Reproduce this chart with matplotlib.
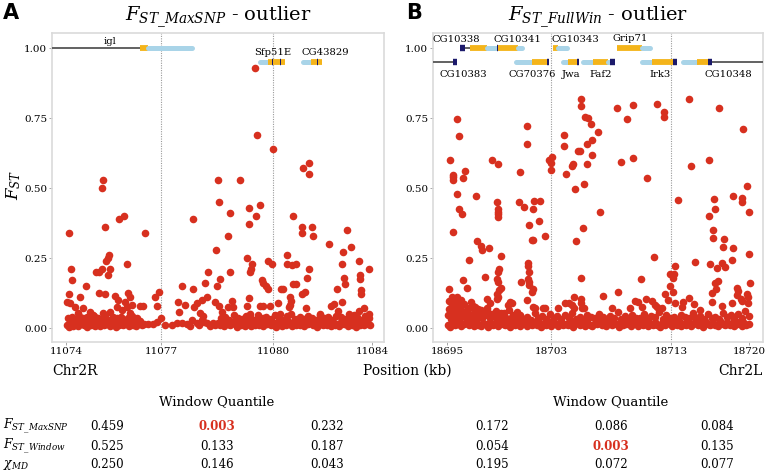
import matplotlib.pyplot as plt

plt.rcParams['font.family'] = 'DejaVu Serif'
plt.rcParams['mathtext.fontset'] = 'dejavuserif'

RED = '#d7301f'

# ---------------- panel A data (Chr2R, kb / F_ST) ----------------
a_pts = [
    (11074.10, .34), (11075.21, .53), (11075.18, .50), (11075.27, .36), (11075.73, .39),
    (11075.90, .40), (11076.58, .34), (11075.99, .23), (11075.41, .26), (11075.37, .25),
    (11075.31, .24), (11075.18, .21), (11074.98, .20), (11075.08, .20), (11075.44, .21),
    (11075.37, .19), (11074.16, .21), (11074.20, .17), (11074.65, .15), (11075.08, .125),
    (11075.27, .12), (11074.10, .12), (11074.03, .093), (11074.13, .09), (11074.46, .11),
    (11077.04, .13), (11076.91, .11), (11078.15, .39), (11078.97, .53), (11079.00, .45),
    (11079.36, .41), (11079.29, .33), (11078.90, .28), (11078.64, .20), (11079.36, .20),
    (11078.54, .16), (11079.03, .175), (11078.15, .14), (11077.79, .15), (11078.93, .15),
    (11078.61, .11), (11079.69, .53), (11080.24, .69), (11080.76, .64), (11081.75, .57),
    (11081.94, .59), (11081.94, .55), (11079.98, .43), (11080.34, .44), (11080.21, .40),
    (11079.98, .37), (11081.42, .40), (11081.71, .36), (11081.71, .34), (11082.04, .36),
    (11082.07, .33), (11083.18, .35), (11082.59, .30), (11083.31, .29), (11083.05, .27),
    (11079.92, .25), (11080.08, .23), (11080.05, .21), (11080.01, .20), (11080.60, .24),
    (11080.73, .23), (11081.22, .26), (11081.22, .23), (11081.39, .225), (11081.52, .23),
    (11081.94, .21), (11081.88, .18), (11083.02, .23), (11083.08, .18), (11083.58, .24),
    (11083.61, .19), (11083.61, .175), (11083.90, .21), (11080.41, .17), (11080.44, .16),
    (11080.54, .15), (11080.60, .14), (11081.03, .14), (11081.09, .14), (11081.42, .157),
    (11081.52, .157), (11082.86, .14), (11083.12, .157), (11081.71, .12), (11081.81, .13),
    (11083.64, .12), (11083.64, .136), (11079.98, .107), (11080.18, .93), (11083.02, .093),
    (11082.66, .08), (11082.76, .086), (11083.58, .06), (11083.74, .07), (11081.32, .11),
    (11081.35, .096), (11081.32, .082), (11081.29, .075), (11080.67, .08), (11080.93, .09),
    (11080.34, .08), (11080.44, .08), (11079.92, .08), (11079.42, .096), (11079.29, .075),
    (11079.46, .075), (11079.00, .08), (11079.10, .057), (11081.84, .07), (11075.60, .114),
    (11075.70, .10), (11076.03, .125), (11076.09, .11), (11075.93, .093), (11076.42, .08),
    (11076.52, .08), (11076.97, .08), (11077.66, .093), (11077.89, .082), (11078.28, .09),
    (11078.44, .10), (11078.87, .093), (11077.69, .057), (11078.18, .075), (11078.38, .054),
    (11078.48, .043), (11074.29, .075), (11074.56, .07), (11074.39, .054), (11074.78, .057),
    (11074.88, .046), (11074.56, .036), (11075.21, .054), (11075.44, .057), (11075.67, .075),
    (11075.83, .064), (11075.99, .075), (11076.16, .082), (11076.09, .054), (11076.32, .036),
    (11075.76, .036), (11075.21, .03), (11082.30, .05), (11082.90, .06), (11083.40, .045),
    (11083.90, .05), (11081.00, .05), (11080.00, .05),
]

a_low_x = [11074.02, 11074.09, 11074.14, 11074.21, 11074.27, 11074.33, 11074.40, 11074.45, 11074.52, 11074.58,
           11074.63, 11074.70, 11074.76, 11074.83, 11074.88, 11074.95, 11075.01, 11075.07, 11075.12, 11075.19,
           11075.25, 11075.31, 11075.38, 11075.43, 11075.50, 11075.56, 11075.62, 11075.69, 11075.74, 11075.80,
           11075.87, 11075.93, 11075.98, 11076.05, 11076.11, 11076.18, 11076.24, 11076.30, 11076.36, 11076.43,
           11076.49, 11076.56,
           11074.05, 11074.18, 11074.30, 11074.43, 11074.55, 11074.67, 11074.80, 11074.92, 11075.04, 11075.16,
           11075.28, 11075.41, 11075.53, 11075.65, 11075.78, 11075.90, 11076.02, 11076.14, 11076.27, 11076.39,
           11076.68, 11076.84, 11076.97, 11077.10, 11077.24, 11077.46, 11077.63, 11077.79, 11077.95, 11078.12,
           11078.28, 11078.44, 11078.61, 11078.80, 11078.97, 11078.05, 11078.35, 11078.70, 11078.52, 11078.88,
           11079.04, 11079.10, 11079.17, 11079.24, 11079.30, 11079.37, 11079.44, 11079.51, 11079.57, 11079.64,
           11079.71, 11079.77, 11079.84, 11079.91, 11079.97, 11080.04, 11080.11, 11080.18, 11080.24, 11080.31,
           11080.38, 11080.45, 11080.51, 11080.58, 11080.65, 11080.71, 11080.78, 11080.85, 11080.92, 11080.98,
           11081.05, 11081.12, 11081.18, 11081.25, 11081.32, 11081.39, 11081.45, 11081.52, 11081.59, 11081.66,
           11081.72, 11081.79, 11081.86, 11081.92, 11081.99, 11082.06, 11082.13, 11082.19, 11082.26, 11082.33,
           11082.40, 11082.46, 11082.53, 11082.60, 11082.66, 11082.73, 11082.80, 11082.87, 11082.93, 11083.00,
           11083.07, 11083.13, 11083.20, 11083.27, 11083.34, 11083.40, 11083.47, 11083.54, 11083.60, 11083.67,
           11083.74, 11083.81, 11083.87, 11083.93,
           11079.07, 11079.21, 11079.34, 11079.48, 11079.61, 11079.75, 11079.88, 11080.01, 11080.15, 11080.28,
           11080.42, 11080.55, 11080.69, 11080.82, 11080.95, 11081.09, 11081.22, 11081.36, 11081.49, 11081.63,
           11081.76, 11081.89, 11082.03, 11082.16, 11082.30, 11082.43, 11082.57, 11082.70, 11082.83, 11082.97,
           11083.10, 11083.24, 11083.37, 11083.51, 11083.64, 11083.78, 11083.91]
a_low_y = [.012, .004, .020, .008, .015, .026, .006, .013, .022, .009,
           .017, .005, .024, .011, .018, .007, .030, .014, .006, .021,
           .010, .016, .027, .008, .013, .019, .005, .024, .011, .017,
           .009, .028, .014, .006, .020, .012, .018, .008, .015, .025,
           .010, .013,
           .035, .040, .031, .044, .033, .038, .029, .042, .036, .032,
           .045, .030, .039, .034, .041, .028, .037, .043, .031, .026,
           .014, .014, .021, .036, .011, .011, .018, .018, .014, .029,
           .018, .029, .018, .018, .018, .008, .010, .006, .022, .012,
           .010, .018, .006, .024, .013, .009, .020, .015, .005, .027,
           .011, .017, .008, .022, .014, .006, .019, .012, .025, .009,
           .016, .007, .021, .013, .030, .010, .018, .005, .023, .014,
           .008, .020, .011, .026, .016, .006, .019, .012, .024, .009,
           .015, .007, .022, .013, .028, .010, .017, .005, .021, .014,
           .009, .025, .012, .018, .007, .020, .011, .016, .006, .023,
           .013, .019, .008, .026, .010, .015, .005, .021, .012, .017,
           .009, .024, .014, .011,
           .034, .041, .029, .046, .036, .031, .043, .038, .030, .048,
           .035, .040, .032, .045, .037, .029, .042, .050, .033, .039,
           .031, .044, .036, .028, .047, .034, .040, .030, .043, .038,
           .032, .049, .035, .041, .029, .044, .037]

# ---------------- panel B data (Chr2L, kb / F_ST) ----------------
b_pts = [
    (18706.09, .818), (18706.09, .793), (18706.42, .754), (18706.67, .75), (18706.92, .729),
    (18707.50, .70), (18704.69, .69), (18704.69, .65), (18701.62, .72), (18701.62, .657),
    (18695.83, .746), (18695.99, .686), (18706.59, .657), (18707.00, .67), (18707.00, .618),
    (18705.84, .632), (18706.01, .632), (18706.59, .586), (18705.35, .58), (18705.43, .586),
    (18704.85, .55), (18703.44, .60), (18703.69, .61), (18703.61, .59), (18703.61, .564),
    (18695.25, .60), (18695.50, .54), (18695.50, .53), (18695.50, .547), (18696.32, .536),
    (18696.49, .56), (18698.73, .60), (18699.22, .586), (18701.04, .557), (18705.60, .496),
    (18706.34, .514), (18695.83, .479), (18697.40, .471), (18695.99, .425), (18696.24, .407),
    (18695.50, .343), (18699.14, .45), (18699.22, .425), (18699.22, .414), (18699.22, .407),
    (18699.22, .396), (18700.96, .45), (18701.37, .432), (18702.20, .454), (18702.70, .454),
    (18702.12, .425), (18701.79, .368), (18702.62, .382), (18703.11, .329), (18702.04, .314),
    (18702.12, .314), (18706.26, .357), (18705.68, .311), (18707.67, .414), (18697.48, .311),
    (18697.81, .293), (18697.90, .279), (18698.48, .286), (18696.82, .243), (18699.47, .257),
    (18701.71, .232), (18701.71, .221), (18701.79, .20), (18701.71, .175), (18701.79, .164),
    (18701.79, .154), (18701.13, .164), (18702.12, .139), (18702.04, .129), (18699.30, .211),
    (18699.22, .20), (18699.14, .175), (18699.22, .164), (18699.47, .143), (18699.30, .136),
    (18699.14, .121), (18699.22, .111), (18699.14, .104), (18698.15, .182), (18696.32, .171),
    (18696.66, .143), (18695.17, .139), (18706.09, .179), (18705.51, .111), (18706.09, .104),
    (18695.41, .111), (18695.83, .111), (18695.99, .089), (18698.31, .104), (18698.56, .089),
    (18700.22, .093), (18700.38, .089), (18700.05, .082), (18701.62, .10), (18703.11, .071),
    (18697.15, .071), (18702.95, .071), (18702.12, .075), (18702.28, .071), (18704.77, .089),
    (18705.10, .089), (18705.35, .082), (18705.51, .071), (18704.19, .071), (18706.18, .071),
    (18706.34, .071), (18706.09, .089),
    (18709.07, .786), (18710.40, .796), (18709.90, .746), (18712.38, .80), (18712.96, .771),
    (18712.96, .754), (18715.03, .818), (18717.52, .786), (18719.50, .711), (18709.40, .593),
    (18710.40, .607), (18711.56, .536), (18715.20, .579), (18716.69, .60), (18719.83, .507),
    (18718.68, .471), (18719.42, .464), (18719.42, .45), (18720.00, .414), (18717.10, .461),
    (18717.19, .425), (18716.69, .40), (18714.12, .457), (18717.02, .35), (18717.02, .32),
    (18717.93, .318), (18717.85, .289), (18718.68, .286), (18720.00, .264), (18718.59, .243),
    (18717.77, .232), (18718.01, .218), (18717.35, .214), (18716.77, .229), (18715.53, .236),
    (18712.14, .254), (18713.87, .221), (18713.46, .193), (18713.79, .193), (18713.71, .179),
    (18711.06, .175), (18717.19, .161), (18717.43, .168), (18717.27, .139), (18720.08, .161),
    (18719.01, .143), (18719.09, .132), (18719.01, .118), (18719.83, .121), (18719.92, .111),
    (18716.94, .125), (18713.46, .15), (18713.71, .129), (18713.05, .121), (18709.16, .129),
    (18707.91, .114), (18710.56, .096), (18710.81, .093), (18711.47, .104), (18711.97, .096),
    (18712.22, .082), (18713.29, .10), (18713.87, .089), (18714.54, .093), (18715.03, .107),
    (18716.94, .093), (18717.77, .079), (18718.59, .089), (18719.34, .104), (18719.42, .096),
    (18719.92, .089), (18708.66, .07), (18710.15, .07), (18711.14, .075), (18712.38, .075),
    (18712.80, .07), (18714.45, .075), (18715.45, .085), (18715.95, .065),
]

b_low_x = [18695.05, 18695.22, 18695.41, 18695.63, 18695.80, 18696.02, 18696.19, 18696.40, 18696.61, 18696.79,
           18697.01, 18697.20, 18697.38, 18697.60, 18697.81, 18697.99, 18698.22, 18698.40, 18698.59, 18698.80,
           18699.02, 18699.18, 18699.41, 18699.60, 18699.82, 18700.00, 18700.21, 18700.39, 18700.62, 18700.80,
           18701.01, 18701.19, 18701.42, 18701.61, 18701.78, 18702.00, 18702.22, 18702.41, 18702.59, 18702.80,
           18703.02, 18703.19, 18703.40, 18703.62, 18703.81, 18704.00, 18704.19, 18704.42, 18704.60, 18704.81,
           18705.01, 18705.20, 18705.39, 18705.61, 18705.80, 18706.02, 18706.20, 18706.41, 18706.59, 18706.80,
           18707.00, 18707.22, 18707.40, 18707.61, 18707.79, 18708.01, 18708.20, 18708.39, 18708.62, 18708.80,
           18709.01, 18709.20, 18709.42, 18709.60, 18709.79, 18710.02, 18710.21, 18710.40, 18710.60, 18710.81,
           18711.00, 18711.19, 18711.41, 18711.60, 18711.80, 18712.02, 18712.20, 18712.39, 18712.61, 18712.80,
           18713.01, 18713.20, 18713.42, 18713.59, 18713.80, 18714.00, 18714.21, 18714.40, 18714.62, 18714.80,
           18715.01, 18715.19, 18715.40, 18715.61, 18715.80, 18716.02, 18716.20, 18716.41, 18716.60, 18716.79,
           18717.01, 18717.20, 18717.40, 18717.62, 18717.81, 18718.00, 18718.19, 18718.41, 18718.60, 18718.80,
           18719.02, 18719.20, 18719.41, 18719.60, 18719.79, 18720.00,
           18698.55, 18698.88, 18699.15, 18699.49, 18699.78, 18700.10, 18700.42, 18700.70, 18701.05, 18701.33,
           18701.66, 18701.95, 18702.28, 18702.57, 18702.90, 18703.21, 18703.50, 18703.84, 18704.12, 18704.45,
           18704.73, 18705.06, 18705.37, 18705.68, 18706.00, 18706.31, 18706.62, 18706.94, 18707.25, 18707.55,
           18707.88, 18708.18, 18708.50, 18708.80, 18709.12, 18709.44, 18709.73, 18710.05, 18710.35, 18710.68,
           18710.97, 18711.30, 18711.60, 18711.92, 18712.24, 18712.53, 18712.86, 18713.15, 18713.48, 18713.78,
           18714.10, 18714.41, 18714.72, 18715.03, 18715.35, 18715.65, 18715.98, 18716.28, 18716.59, 18716.90,
           18717.22, 18717.52, 18717.85, 18718.15, 18718.47, 18718.77, 18719.08, 18719.40, 18719.70, 18720.02,
           18695.08, 18695.20, 18695.33, 18695.45, 18695.58, 18695.70, 18695.84, 18695.95, 18696.09, 18696.22,
           18696.35, 18696.48, 18696.60, 18696.74, 18696.86, 18697.00, 18697.12, 18697.25, 18697.38, 18697.52,
           18697.64, 18697.78, 18697.90, 18698.05, 18698.20, 18698.35,
           18695.15, 18695.40, 18695.65, 18695.90, 18696.15, 18696.42, 18696.68, 18696.95, 18697.30, 18697.60,
           18697.95, 18698.30, 18698.70, 18699.05, 18699.40, 18699.75, 18700.10, 18700.45, 18700.80]
b_low_y = [.012, .005, .020, .009, .016, .026, .007, .014, .022, .010,
           .018, .006, .024, .012, .008, .019, .015, .004, .021, .011,
           .017, .007, .025, .013, .009, .020, .005, .016, .011, .023,
           .008, .014, .019, .006, .027, .012, .017, .009, .021, .005,
           .015, .010, .024, .007, .018, .013, .006, .022, .011, .016,
           .009, .020, .005, .014, .026, .011, .017, .008, .023, .012,
           .006, .019, .013, .025, .009, .015, .007, .021, .011, .018,
           .014, .005, .022, .010, .016, .027, .008, .013, .020, .006,
           .017, .011, .024, .007, .015, .009, .021, .012, .005, .018,
           .010, .023, .014, .006, .019, .012, .026, .008, .016, .011,
           .020, .007, .015, .024, .010, .017, .005, .022, .013, .009,
           .018, .012, .006, .025, .014, .009, .021, .011, .016, .007,
           .013, .022, .008, .017, .010, .015,
           .034, .045, .031, .052, .038, .029, .041, .036, .048, .033,
           .040, .030, .055, .037, .044, .032, .049, .035, .042, .031,
           .046, .036, .053, .033, .040, .029, .047, .038, .034, .051,
           .039, .031, .044, .036, .058, .033, .042, .030, .048, .037,
           .035, .050, .032, .043, .038, .056, .031, .045, .036, .041,
           .030, .047, .039, .034, .052, .037, .043, .032, .049, .036,
           .041, .033, .054, .038, .045, .031, .050, .036, .060, .042,
           .045, .068, .032, .082, .055, .040, .073, .050, .036, .062,
           .087, .044, .058, .034, .070, .048, .080, .038, .060, .052,
           .042, .066, .035, .056, .046, .064,
           .095, .078, .090, .070, .100, .085, .064, .092, .075, .068,
           .058, .072, .050, .062, .045, .055, .065, .048, .058]

# window boundaries (tick positions) and their labels
a_ticks = [11074.0, 11077.11, 11080.76, 11084.0]
a_tick_labels = ['11074', '11077', '11080', '11084']
b_ticks = [18695.0, 18703.61, 18713.54, 18720.0]
b_tick_labels = ['18695', '18703', '18713', '18720']

# gene models: (name, label x, label y, track y, [(start, end, part), ...])
a_genes = [
    ('igl', 11075.44, 1.025, 1.00, [(11073.54, 11076.42, 'line'), (11076.42, 11076.68, 'cds'),
                                    (11076.68, 11078.12, 'utr')]),
    ('Sfp51E', 11080.76, 0.985, 0.95, [(11080.34, 11080.60, 'utr'), (11080.60, 11081.16, 'cds'),
                                       (11080.73, 11080.77, 'end'), (11080.99, 11081.03, 'end')]),
    ('CG43829', 11082.46, 0.985, 0.95, [(11081.75, 11082.00, 'utr'), (11082.00, 11082.37, 'cds'),
                                        (11082.19, 11082.23, 'end')]),
]
b_genes = [
    ('CG10338', 18695.75, 1.032, 1.00, [(18696.08, 18696.49, 'end'), (18696.49, 18696.90, 'line'),
                                        (18696.90, 18698.31, 'cds'), (18698.31, 18699.10, 'utr'),
                                        (18699.10, 18699.22, 'end')]),
    ('CG10341', 18700.79, 1.032, 1.00, [(18699.22, 18700.88, 'cds'), (18700.88, 18701.21, 'utr')]),
    ('CG10343', 18705.60, 1.032, 1.00, [(18703.77, 18704.19, 'cds'), (18704.19, 18704.93, 'utr')]),
    ('Grip71', 18710.15, 1.036, 1.00, [(18709.07, 18711.14, 'cds'), (18711.14, 18711.80, 'utr')]),
    ('CG10383', 18696.32, 0.905, 0.95, [(18693.84, 18695.50, 'line'), (18695.50, 18695.80, 'end')]),
    ('CG70376', 18702.04, 0.905, 0.95, [(18700.71, 18702.04, 'utr'), (18702.04, 18703.28, 'cds'),
                                        (18703.28, 18703.46, 'end')]),
    ('Jwa', 18705.26, 0.905, 0.95, [(18704.60, 18705.02, 'utr'), (18705.02, 18705.76, 'cds'),
                                    (18705.76, 18705.95, 'end')]),
    ('Faf2', 18707.75, 0.905, 0.95, [(18706.26, 18707.09, 'utr'), (18707.09, 18708.33, 'cds'),
                                     (18708.33, 18708.49, 'utr'), (18708.49, 18708.91, 'end')]),
    ('Irk3', 18712.63, 0.905, 0.95, [(18711.14, 18711.97, 'utr'), (18711.97, 18713.71, 'cds'),
                                     (18713.71, 18714.04, 'end')]),
    ('CG10348', 18718.26, 0.905, 0.95, [(18714.54, 18715.70, 'utr'), (18715.70, 18716.61, 'cds'),
                                        (18716.61, 18716.94, 'end'), (18716.94, 18721.16, 'line')]),
]

# window-quantile tables
row_labels = [r'$F_{ST\_MaxSNP}$', r'$F_{ST\_Window}$', r'$\chi_{MD}$']
a_table = [['0.459', '0.003', '0.232'], ['0.525', '0.133', '0.187'], ['0.250', '0.146', '0.043']]
b_table = [['0.172', '0.086', '0.084'], ['0.054', '0.003', '0.135'], ['0.195', '0.072', '0.077']]
a_highlight = (0, 1)
b_highlight = (1, 1)

part_style = {
    'line': dict(color='#555555', lw=1.3, solid_capstyle='butt'),
    'utr': dict(color='#a9d4e8', lw=3.6, solid_capstyle='round'),
    'cds': dict(color='#f4b41a', lw=4.2, solid_capstyle='butt'),
    'end': dict(color='#1c1a6b', lw=4.6, solid_capstyle='butt'),
}

W, H = 765, 471
fig = plt.figure(figsize=(W / 100, H / 100), dpi=100)
ax_a = fig.add_axes([52 / W, 1 - 342 / H, 332 / W, 309 / H])
ax_b = fig.add_axes([433 / W, 1 - 342 / H, 330 / W, 309 / H])


def draw_panel(ax, pts, low_x, low_y, ticks, tick_labels, xlim, genes):
    xs, ys = zip(*pts)
    ax.scatter(low_x, low_y, s=30, color=RED, linewidths=0, zorder=3)
    ax.scatter(xs, ys, s=30, color=RED, linewidths=0, zorder=3)
    for b in ticks[1:-1]:
        ax.axvline(b, color='#9a9a9a', ls=(0, (1, 1.2)), lw=0.8, zorder=1)
    for name, lx, ly, ty, parts in genes:
        for x0, x1, part in parts:
            ax.plot([x0, x1], [ty, ty], zorder=4, **part_style[part])
        ax.text(lx, ly, name, ha='center', va='center', fontsize=7.2, zorder=5)
    ax.set_xlim(xlim)
    ax.set_ylim(-0.05, 1.054)
    ax.set_xticks(ticks, tick_labels)
    ax.set_yticks([0, 0.25, 0.5, 0.75, 1.0], ['0.00', '0.25', '0.50', '0.75', '1.00'])
    ax.tick_params(length=2, width=0.6, color='#999999', labelsize=7.5, pad=1.5)
    for sp in ax.spines.values():
        sp.set_color('#dadada')
        sp.set_linewidth(1.2)


draw_panel(ax_a, a_pts, a_low_x, a_low_y, a_ticks, a_tick_labels, (11073.54, 11084.39), a_genes)
draw_panel(ax_b, b_pts, b_low_x, b_low_y, b_ticks, b_tick_labels, (18693.84, 18721.16), b_genes)

# titles and panel letters
fig.text(218 / W, 1 - 17 / H, r'$F_{ST\_MaxSNP}$ - outlier', ha='center', va='center', fontsize=14)
fig.text(598 / W, 1 - 17 / H, r'$F_{ST\_FullWin}$ - outlier', ha='center', va='center', fontsize=14)
fig.text(3 / W, 1 - 13 / H, 'A', family='DejaVu Sans', fontweight='bold', fontsize=15, va='center')
fig.text(406 / W, 1 - 13 / H, 'B', family='DejaVu Sans', fontweight='bold', fontsize=15, va='center')
fig.text(14 / W, 1 - 185 / H, r'$F_{ST}$', rotation=90, ha='center', va='center', fontsize=12)

fig.text(52 / W, 1 - 371 / H, 'Chr2R', ha='left', va='center', fontsize=10)
fig.text(407 / W, 1 - 371 / H, 'Position (kb)', ha='center', va='center', fontsize=10)
fig.text(763 / W, 1 - 371 / H, 'Chr2L', ha='right', va='center', fontsize=10)

# tables
row_y = [426, 446, 465]
for cx, cols, table, hl in [(217, [107, 217, 327], a_table, a_highlight),
                            (611, [492, 611, 717], b_table, b_highlight)]:
    fig.text(cx / W, 1 - 402 / H, 'Window Quantile', ha='center', va='center', fontsize=9.5)
    for i, row in enumerate(table):
        for j, val in enumerate(row):
            red = (i, j) == hl
            fig.text(cols[j] / W, 1 - row_y[i] / H, val, ha='center', va='center', fontsize=8.5,
                     color=RED if red else 'black', fontweight='bold' if red else 'normal')
for i, lab in enumerate(row_labels):
    fig.text(3 / W, 1 - row_y[i] / H, lab, ha='left', va='center', fontsize=9)

fig.savefig('out.png', dpi=100)
